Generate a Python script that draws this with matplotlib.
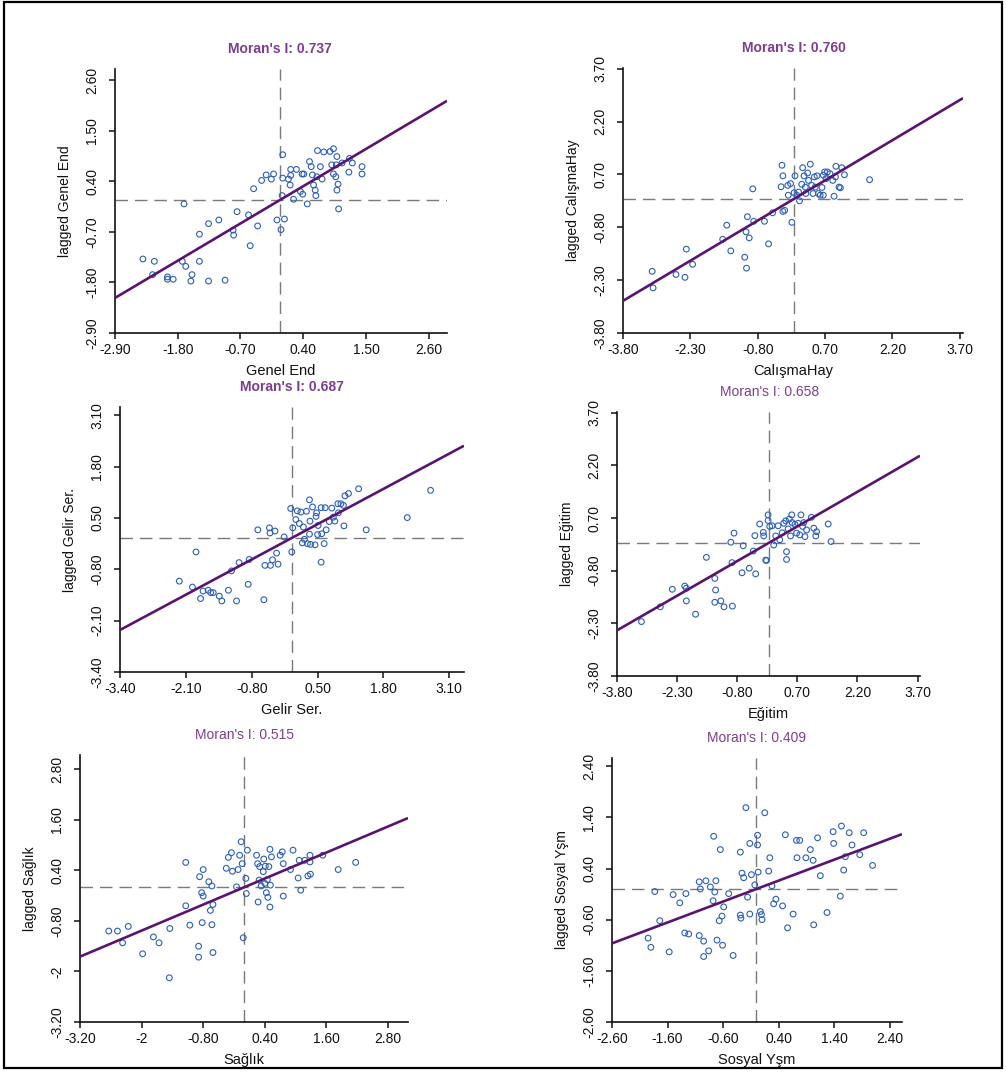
"""
Moran scatter plots (6 panels) - lagged value vs. standardized value,
slope line = Moran's I, dashed lines at zero.
Output: out.png
"""

import numpy as np
import matplotlib
matplotlib.use("Agg")
import matplotlib.pyplot as plt
from matplotlib.patches import Rectangle

plt.rcParams["font.family"] = ["Liberation Sans", "DejaVu Sans"]
plt.rcParams["axes.unicode_minus"] = False

# ── Data ─────────────────────────────────────────────────────────────────────
names   = ["Genel End", "CalışmaHay", "Gelir Ser.", "Eğitim", "Sağlık", "Sosyal Yşm"]
morans  = [0.737, 0.760, 0.687, 0.658, 0.515, 0.409]

genel_x = [-2.41, -2.21, -2.24, -1.98, -1.98, -1.88, -1.69, -1.72, -1.66, -1.55,
           -1.57, -1.42, -1.42, -1.26, -1.26, -1.08, -0.97, -0.83, -0.82, -0.76,
           -0.56, -0.53, -0.47, -0.40, -0.33, -0.25, -0.16, -0.12, -0.06, 0.04,
           0.04, 0.03, 0.07, 0.01, 0.14, 0.18, 0.17, 0.28, 0.18, 0.23,
           0.35, 0.38, 0.39, 0.41, 0.47, 0.51, 0.54, 0.56, 0.58, 0.61,
           0.62, 0.64, 0.70, 0.73, 0.65, 0.76, 0.87, 0.90, 0.93, 0.93,
           0.99, 0.98, 0.97, 1.01, 0.99, 1.02, 1.08, 1.21, 1.20, 1.26,
           1.43, 1.43]
genel_y = [-1.29, -1.34, -1.63, -1.68, -1.73, -1.73, -0.09, -1.34, -1.45, -1.63,
           -1.77, -1.34, -0.75, -0.52, -1.77, -0.44, -1.75, -0.66, -0.77, -0.26,
           -0.33, -1.00, 0.24, -0.57, 0.42, 0.54, 0.45, 0.56, -0.44, 0.98,
           0.47, 0.09, -0.42, -0.65, 0.45, 0.66, 0.32, 0.66, 0.53, 0.01,
           0.18, 0.56, 0.12, 0.56, -0.09, 0.83, 0.72, 0.54, 0.32, 0.21,
           0.09, 0.50, 0.72, 0.45, 1.07, 1.04, 1.05, 0.76, 1.11, 0.56,
           0.94, 0.76, 0.50, 0.34, 0.21, -0.20, 0.80, 0.90, 0.60, 0.80,
           0.72, 0.56]

calisma_x = [-3.15, -3.13, -2.62, -2.42, -2.39, -2.25, -1.58, -1.49, -1.40, -1.09,
             -1.05, -1.06, -1.03, -0.99, -0.91, -0.89, -0.65, -0.56, -0.47, -0.26,
             -0.24, -0.28, -0.24, -0.20, -0.13, -0.12, -0.07, -0.04, 0.01, 0.03,
             0.07, 0.11, 0.13, 0.18, 0.20, 0.23, 0.26, 0.27, 0.31, 0.33,
             0.37, 0.40, 0.43, 0.46, 0.48, 0.52, 0.55, 0.59, 0.63, 0.66,
             0.66, 0.69, 0.72, 0.75, 0.81, 0.87, 0.90, 0.93, 0.94, 1.01,
             1.04, 1.07, 1.13, 1.69]
calisma_y = [-2.05, -2.52, -2.14, -2.22, -1.42, -1.85, -1.14, -0.74, -1.47, -1.65,
             -1.96, -0.93, -0.50, -1.10, 0.29, -0.63, -0.63, -1.27, -0.39, 0.96,
             0.66, 0.35, -0.35, -0.32, 0.39, 0.11, 0.44, -0.66, 0.18, 0.66,
             0.11, 0.20, -0.05, 0.42, 0.89, 0.66, 0.34, 0.16, 0.74, 0.53,
             0.99, 0.39, 0.16, 0.63, 0.34, 0.66, 0.16, 0.11, 0.33, 0.11,
             0.68, 0.77, 0.58, 0.77, 0.72, 0.53, 0.08, 0.63, 0.93, 0.34,
             0.32, 0.89, 0.69, 0.55]

gelir_x = [-2.23, -1.97, -1.90, -1.81, -1.76, -1.66, -1.61, -1.56, -1.44, -1.39,
           -1.26, -1.20, -1.10, -1.05, -0.87, -0.85, -0.68, -0.56, -0.54, -0.45,
           -0.44, -0.43, -0.39, -0.34, -0.31, -0.28, -0.16, -0.03, -0.01, 0.01,
           0.07, 0.10, 0.14, 0.17, 0.20, 0.22, 0.24, 0.28, 0.30, 0.34,
           0.34, 0.35, 0.36, 0.40, 0.45, 0.47, 0.48, 0.50, 0.51, 0.57,
           0.57, 0.58, 0.63, 0.65, 0.67, 0.73, 0.78, 0.81, 0.84, 0.90,
           0.91, 0.96, 1.01, 1.02, 1.04, 1.11, 1.31, 1.46, 2.27, 2.73]
gelir_y = [-1.10, -1.25, -0.36, -1.54, -1.35, -1.33, -1.39, -1.39, -1.48, -1.60,
           -1.33, -0.84, -1.60, -0.63, -1.18, -0.55, 0.20, -1.57, -0.70, 0.25,
           0.12, -0.70, -0.56, 0.17, -0.39, -0.67, 0.02, 0.74, -0.36, 0.25,
           0.46, 0.68, 0.36, 0.65, -0.13, 0.27, -0.04, 0.67, -0.15, 0.96,
           0.09, 0.42, -0.17, 0.78, -0.18, 0.54, 0.63, 0.08, 0.31, 0.76,
           -0.62, 0.10, -0.15, 0.76, 0.20, 0.41, 0.75, 0.52, 0.42, 0.86,
           0.63, 0.86, 0.82, 0.30, 1.06, 1.12, 1.24, 0.20, 0.51, 1.20]

egitim_x = [-3.19, -2.72, -2.42, -2.11, -2.07, -2.07, -1.84, -1.57, -1.36, -1.34,
            -1.36, -1.21, -1.13, -0.92, -0.96, -0.93, -0.88, -0.68, -0.65, -0.50,
            -0.40, -0.36, -0.34, -0.24, -0.15, -0.14, -0.09, -0.07, -0.03, -0.03,
            0.01, 0.07, 0.11, 0.16, 0.22, 0.26, 0.32, 0.36, 0.41, 0.43,
            0.43, 0.47, 0.50, 0.53, 0.56, 0.57, 0.64, 0.68, 0.72, 0.76,
            0.79, 0.83, 0.86, 0.89, 0.93, 1.05, 1.11, 1.18, 1.16, 1.47,
            1.54]
egitim_y = [-2.25, -1.83, -1.33, -1.24, -1.30, -1.66, -2.04, -0.42, -1.02, -1.35,
            -1.70, -1.66, -1.83, -1.81, 0.01, -0.57, 0.27, -0.86, -0.09, -0.73,
            -0.24, 0.20, -0.89, 0.53, 0.29, 0.19, -0.50, -0.51, 0.79, 0.63,
            0.46, 0.48, -0.07, 0.19, 0.48, 0.08, 0.28, 0.55, 0.62, -0.26,
            -0.48, 0.39, 0.67, 0.19, 0.79, 0.57, 0.52, 0.27, 0.55, 0.22,
            0.79, 0.46, 0.57, 0.17, 0.36, 0.72, 0.41, 0.31, 0.19, 0.53,
            0.03]

saglik_x = [-2.64, -2.47, -2.37, -2.26, -1.98, -1.77, -1.66, -1.46, -1.45, -1.14,
            -1.14, -1.06, -0.89, -0.89, -0.87, -0.83, -0.82, -0.80, -0.80, -0.69,
            -0.66, -0.63, -0.63, -0.61, -0.61, -0.35, -0.31, -0.25, -0.23, -0.15,
            -0.12, -0.09, -0.06, -0.04, -0.02, 0.03, 0.04, 0.06, 0.24, 0.26,
            0.27, 0.29, 0.30, 0.33, 0.37, 0.38, 0.40, 0.41, 0.43, 0.45,
            0.46, 0.48, 0.50, 0.50, 0.51, 0.53, 0.70, 0.74, 0.76, 0.76,
            0.90, 0.95, 1.05, 1.07, 1.10, 1.18, 1.24, 1.28, 1.28, 1.29,
            1.53, 1.83, 2.17]
saglik_y = [-1.04, -1.04, -1.32, -0.93, -1.58, -1.18, -1.32, -2.15, -0.98, 0.59,
            -0.44, -0.90, -1.40, -1.66, 0.25, -0.13, -0.84, 0.42, -0.21, 0.13,
            -0.55, 0.03, -0.89, -0.41, -1.55, 0.45, 0.71, 0.82, 0.38, 0.01,
            0.42, 0.76, 1.08, 0.56, -1.20, 0.21, -0.15, 0.88, 0.76, 0.56,
            -0.35, 0.17, 0.49, 0.03, 0.37, 0.67, 0.09, 0.50, -0.13, 0.18,
            -0.24, 0.49, 0.90, -0.47, 0.05, 0.72, 0.76, 0.84, 0.56, -0.21,
            0.42, 0.88, 0.22, 0.64, -0.07, 0.64, 0.27, 0.76, 0.60, 0.31,
            0.76, 0.42, 0.59]

sosyal_x = [-1.95, -1.90, -1.83, -1.74, -1.57, -1.50, -1.38, -1.27, -1.29, -1.22,
            -1.03, -1.01, -1.03, -0.95, -0.95, -0.91, -0.86, -0.83, -0.78, -0.77,
            -0.75, -0.73, -0.71, -0.65, -0.67, -0.62, -0.61, -0.59, -0.50, -0.42,
            -0.29, -0.29, -0.28, -0.26, -0.23, -0.19, -0.16, -0.12, -0.12, -0.09,
            -0.03, 0.02, 0.02, 0.03, 0.07, 0.09, 0.10, 0.15, 0.22, 0.24,
            0.28, 0.31, 0.35, 0.47, 0.52, 0.56, 0.66, 0.72, 0.78, 0.73,
            0.89, 0.97, 1.02, 1.03, 1.10, 1.15, 1.27, 1.38, 1.39, 1.51,
            1.53, 1.57, 1.60, 1.67, 1.72, 1.86, 1.93, 2.09]
sosyal_y = [-0.96, -1.14, -0.05, -0.62, -1.23, -0.11, -0.27, -0.09, -0.86, -0.88,
            0.14, 0.00, -0.91, -1.02, -1.32, 0.16, -1.21, 0.04, -0.23, 1.03,
            -0.06, 0.16, -1.00, 0.77, -0.62, -0.53, -1.10, -0.35, -0.09, -1.30,
            0.72, -0.51, -0.57, 0.31, 0.22, 1.59, -0.16, 0.89, -0.49, 0.28,
            0.08, 1.05, 0.86, 0.33, -0.44, -0.50, -0.60, 1.49, 0.35, 0.61,
            0.06, -0.29, -0.20, -0.33, 1.06, -0.76, -0.49, 0.95, 0.95, 0.61,
            0.61, 0.77, 0.56, -0.70, 1.00, 0.26, -0.46, 1.12, 0.89, -0.14,
            1.23, 0.37, 0.63, 1.10, 0.86, 0.67, 1.10, 0.46]

xs = [genel_x, calisma_x, gelir_x, egitim_x, saglik_x, sosyal_x]
ys = [genel_y, calisma_y, gelir_y, egitim_y, saglik_y, sosyal_y]

tick_labels = [
    ["-2.90", "-1.80", "-0.70", "0.40", "1.50", "2.60"],
    ["-3.80", "-2.30", "-0.80", "0.70", "2.20", "3.70"],
    ["-3.40", "-2.10", "-0.80", "0.50", "1.80", "3.10"],
    ["-3.80", "-2.30", "-0.80", "0.70", "2.20", "3.70"],
    ["-3.20", "-2", "-0.80", "0.40", "1.60", "2.80"],
    ["-2.60", "-1.60", "-0.60", "0.40", "1.40", "2.40"],
]

# ── Layout (pixel boxes: left, right, top, bottom) and axis ends ──────────────
W, H = 1006, 1072
boxes = [(115, 447, 69, 333), (623, 963, 68, 333),
         (120, 464, 407, 672), (617, 920, 412, 676),
         (80, 408, 755, 1022), (612, 902, 758, 1022)]
x_ends = [2.92, 3.77, 3.39, 3.76, 3.19, 2.62]
y_ends = [2.845, 3.72, 3.31, 3.72, 3.14, 2.56]
title_bold = [True, True, True, False, False, False]

PT_COLOR   = "#2b5fb8"
LINE_COLOR = "#5a1470"
TITLE_COL  = "#7e3d8f"
DASH_COL   = "#7a7a7a"

fig = plt.figure(figsize=(W / 100, H / 100), dpi=100)

for i in range(6):
    L, R, T, B = boxes[i]
    ax = fig.add_axes([L / W, 1 - B / H, (R - L) / W, (B - T) / H])
    ticks = [float(t) for t in tick_labels[i]]
    x0 = ticks[0]
    ax.set_xlim(x0, x_ends[i])
    ax.set_ylim(x0, y_ends[i])

    ax.axvline(0, color=DASH_COL, lw=1.0, dashes=(9, 5), zorder=1)
    ax.axhline(0, color=DASH_COL, lw=1.0, dashes=(9, 5), zorder=1)

    ax.scatter(xs[i], ys[i], s=17, facecolors="none", edgecolors=PT_COLOR,
               linewidths=0.8, zorder=2)

    xl = np.array([x0, x_ends[i]])
    ax.plot(xl, morans[i] * xl, color=LINE_COLOR, lw=1.9, zorder=3,
            solid_capstyle="butt")

    ax.set_xticks(ticks)
    ax.set_xticklabels(tick_labels[i])
    ax.set_yticks(ticks)
    ax.set_yticklabels(tick_labels[i])
    ax.tick_params(axis="both", direction="out", length=4.5, width=1.1,
                   labelsize=10, colors="#111111")
    ax.tick_params(axis="x", pad=3)
    ax.tick_params(axis="y", pad=7, labelrotation=90)
    for lab in ax.get_yticklabels():
        lab.set_va("center")

    ax.spines[["top", "right"]].set_visible(False)
    for sp in ["left", "bottom"]:
        ax.spines[sp].set_linewidth(1.2)
        ax.spines[sp].set_color("#111111")
    ax.patch.set_visible(False)

    ax.set_xlabel(names[i], fontsize=10.5, color="#111111")
    ax.set_ylabel("lagged " + names[i], fontsize=10, color="#111111")
    ax.xaxis.set_label_coords(0.5, -38 / (B - T))
    ax.xaxis.label.set_va("center")
    ax.yaxis.set_label_coords(-50 / (R - L), 0.5)
    ax.yaxis.label.set_va("center")

    ax.annotate(f"Moran's I: {morans[i]:.3f}", xy=(0, 1),
                xycoords=("data", "axes fraction"),
                xytext=(0, 14.5), textcoords="offset points",
                ha="center", va="center", fontsize=10, color=TITLE_COL,
                fontweight="bold" if title_bold[i] else "normal",
                annotation_clip=False)

# outer frame
fig.add_artist(Rectangle((4 / W, 1 - 1068 / H), 998 / W, 1066 / H,
                         transform=fig.transFigure, fill=False,
                         lw=1.6, ec="black"))

fig.savefig("out.png", dpi=100)
plt.close(fig)
print("Saved: out.png")
